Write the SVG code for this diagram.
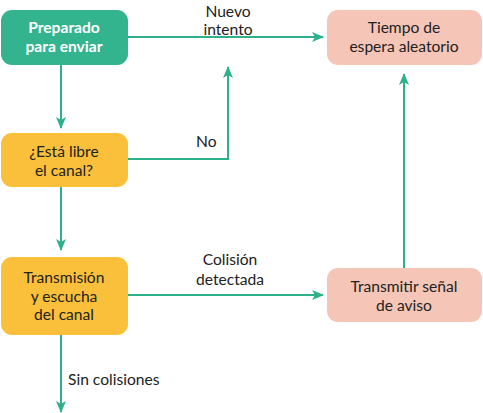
<svg xmlns="http://www.w3.org/2000/svg" width="483" height="413" viewBox="0 0 483 413">
<style>
.t{font-family:Lato,"Liberation Sans",sans-serif;font-size:15.6px;fill:#222;text-anchor:middle}
.w{fill:#fff;font-weight:bold}
.l{text-anchor:start}
.c{fill:none;stroke:#2fb08d;stroke-width:2}
</style>
<defs>
<marker id="a" viewBox="0 0 12 10" refX="11" refY="5" markerWidth="12" markerHeight="10" markerUnits="userSpaceOnUse" orient="auto">
<path d="M0,0 L12,5 L0,10 L3,5 Z" fill="#2fb08d"/>
</marker>
</defs>
<rect width="483" height="413" fill="#fff"/>
<g id="connectors">
<path class="c" d="M128,37 H323" marker-end="url(#a)"/>
<path class="c" d="M61,65 V128" marker-end="url(#a)"/>
<path class="c" d="M128,159 H228 V67" marker-end="url(#a)"/>
<path class="c" d="M61,187 V250" marker-end="url(#a)"/>
<path class="c" d="M128,295 H323" marker-end="url(#a)"/>
<path class="c" d="M404,268 V74" marker-end="url(#a)"/>
<path class="c" d="M61,335 V412" marker-end="url(#a)"/>
<text class="t" x="228" y="17">Nuevo</text>
<text class="t" x="228" y="35">intento</text>
<text class="t l" x="196" y="147">No</text>
<text class="t" x="230" y="265">Colisión</text>
<text class="t" x="230" y="285">detectada</text>
<text class="t l" x="68" y="385">Sin colisiones</text>
</g>
<g id="preparado">
<rect x="1" y="10" width="127" height="55" rx="11" fill="#33b38e"/>
<text class="t w" x="64" y="33">Preparado</text>
<text class="t w" x="64" y="52">para enviar</text>
</g>
<g id="libre">
<rect x="1" y="133" width="127" height="54" rx="11" fill="#fbc03b"/>
<text class="t" x="64" y="157">¿Está libre</text>
<text class="t" x="64" y="176">el canal?</text>
</g>
<g id="transmision">
<rect x="1" y="257" width="127" height="78" rx="11" fill="#fbc03b"/>
<text class="t" x="64" y="283">Transmisión</text>
<text class="t" x="64" y="302">y escucha</text>
<text class="t" x="64" y="320">del canal</text>
</g>
<g id="espera">
<rect x="327" y="10" width="155" height="55" rx="11" fill="#f5c6b8"/>
<text class="t" x="404" y="33">Tiempo de</text>
<text class="t" x="404" y="52">espera aleatorio</text>
</g>
<g id="aviso">
<rect x="327" y="268" width="155" height="54" rx="11" fill="#f5c6b8"/>
<text class="t" x="404" y="292">Transmitir señal</text>
<text class="t" x="404" y="311">de aviso</text>
</g>
</svg>
